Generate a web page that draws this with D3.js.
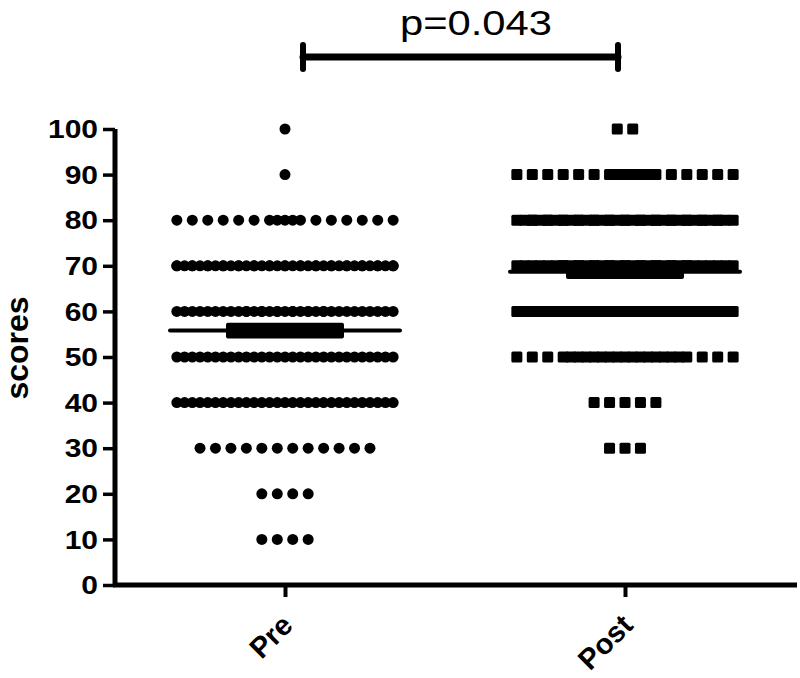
<!DOCTYPE html>
<html>
<head>
<meta charset="utf-8">
<script src="https://cdn.jsdelivr.net/npm/d3@7"></script>
<style>
  body { margin: 0; background: #fff; }
  text { font-family: "Liberation Sans", Arial, sans-serif; fill: #000; }
</style>
</head>
<body>
<svg id="svg" width="800" height="678"></svg>
<script>
// data (number of subjects at each score)
var groups = ["Pre", "Post"];
var scoreLevels = [100, 90, 80, 70, 60, 50, 40, 30, 20, 10];
var preCounts = [1, 1, 17, 44, 35, 29, 29, 12, 4, 4];
var postCounts = [2, 18, 42, 38, 32, 23, 5, 3, 0, 0];
var yTicks = [0, 10, 20, 30, 40, 50, 60, 70, 80, 90, 100];
var pLabel = "p=0.043";

var svg = d3.select("#svg");

var yScale = d3.scaleLinear().domain([0, 100]).range([585, 129]);
var xScale = d3.scalePoint().domain(groups).range([115, 795]).padding(0.5);

var step = 15.45;

// graphpad style: fill one row, then next layer at half offsets
function rowOffsets(n) {
  var out = [], left = n, layer = 0;
  while (left > 0) {
    var cap = layer % 2 == 0 ? 15 : 14;
    var m = Math.min(left, cap);
    for (var j = 0; j < m; j++) {
      var o = j - (m - 1) / 2;
      if (layer % 2 == 1 && m % 2 == 1) o += 0.5;
      out.push(o);
    }
    left -= m;
    layer++;
  }
  return out;
}

function makePoints(group, counts) {
  var pts = [];
  scoreLevels.forEach(function (s, i) {
    rowOffsets(counts[i]).forEach(function (o) {
      pts.push({ group: group, score: s, off: o });
    });
  });
  return pts;
}

function stats(counts) {
  var n = d3.sum(counts);
  var mean = d3.sum(scoreLevels, function (s, i) { return s * counts[i]; }) / n;
  var ss = d3.sum(scoreLevels, function (s, i) { return counts[i] * (s - mean) * (s - mean); });
  var sd = Math.sqrt(ss / (n - 1));
  return { group: null, mean: mean, sem: sd / Math.sqrt(n) };
}

var prePts = makePoints("Pre", preCounts);
var postPts = makePoints("Post", postCounts);

// Pre as circles
svg.append("g").selectAll("circle")
  .data(prePts).enter().append("circle")
  .attr("cx", function (d) { return xScale(d.group) + d.off * step; })
  .attr("cy", function (d) { return yScale(d.score); })
  .attr("r", 5.5)
  .attr("fill", "#000");

// Post as squares
svg.append("g").selectAll("rect")
  .data(postPts).enter().append("rect")
  .attr("x", function (d) { return xScale(d.group) + d.off * step - 5.5; })
  .attr("y", function (d) { return yScale(d.score) - 5.5; })
  .attr("width", 11)
  .attr("height", 11)
  .attr("rx", 1.5)
  .attr("fill", "#000");

// mean + SEM
var summary = [stats(preCounts), stats(postCounts)];
summary[0].group = "Pre";
summary[1].group = "Post";

var means = svg.append("g");
summary.forEach(function (d) {
  var cx = xScale(d.group);
  means.append("line")
    .attr("x1", cx - 115).attr("x2", cx + 115)
    .attr("y1", yScale(d.mean)).attr("y2", yScale(d.mean))
    .attr("stroke", "#000").attr("stroke-width", 4).attr("stroke-linecap", "round");
  means.append("rect")
    .attr("x", cx - 57).attr("width", 114)
    .attr("y", yScale(d.mean + d.sem))
    .attr("height", yScale(d.mean - d.sem) - yScale(d.mean + d.sem))
    .attr("fill", "#000").attr("stroke", "#000").attr("stroke-width", 4)
    .attr("stroke-linejoin", "round");
});

// Y Axis
var yAxis = svg.append("g")
  .attr("transform", "translate(115,0)")
  .call(d3.axisLeft(yScale).tickValues(yTicks).tickSize(12).tickSizeOuter(0));
yAxis.select(".domain").attr("stroke-width", 5).attr("d", "M0,585V129");
yAxis.selectAll(".tick line").attr("stroke-width", 3.5);
yAxis.selectAll(".tick text")
  .attr("transform", "scale(1.2,1)")
  .attr("x", -17 / 1.2)
  .attr("dy", "0.35em")
  .style("font-size", "25px")
  .style("font-weight", "bold")
  .style("font-family", "Liberation Sans, Arial, sans-serif");

// X Axis
var xAxis = svg.append("g")
  .attr("transform", "translate(0,585)")
  .call(d3.axisBottom(xScale).tickSize(12).tickSizeOuter(0));
xAxis.select(".domain").attr("stroke-width", 5).attr("d", "M113,0H797");
xAxis.selectAll(".tick line").attr("stroke-width", 4);
xAxis.selectAll(".tick text")
  .attr("y", 0).attr("dy", 0)
  .attr("transform", "translate(9,42) rotate(-45)")
  .style("text-anchor", "end")
  .style("font-size", "29px")
  .style("font-weight", "bold")
  .style("font-family", "Liberation Sans, Arial, sans-serif");

// y label
svg.append("text")
  .attr("transform", "translate(28,348) rotate(-90)")
  .attr("text-anchor", "middle")
  .style("font-size", "32px")
  .style("font-weight", "bold")
  .text("scores");

// significance bracket
var bx1 = xScale("Pre") + 18, bx2 = xScale("Post") - 7, by = 57;
var br = svg.append("g").attr("stroke", "#000").attr("stroke-linecap", "round");
br.append("line").attr("x1", bx1).attr("x2", bx2).attr("y1", by).attr("y2", by).attr("stroke-width", 7);
br.append("line").attr("x1", bx1).attr("x2", bx1).attr("y1", by - 12).attr("y2", by + 12).attr("stroke-width", 6);
br.append("line").attr("x1", bx2).attr("x2", bx2).attr("y1", by - 12).attr("y2", by + 12).attr("stroke-width", 6);

svg.append("text")
  .attr("x", 400).attr("y", 35)
  .attr("textLength", 152)
  .attr("lengthAdjust", "spacingAndGlyphs")
  .style("font-size", "35px")
  .text(pLabel);
</script>
</body>
</html>
